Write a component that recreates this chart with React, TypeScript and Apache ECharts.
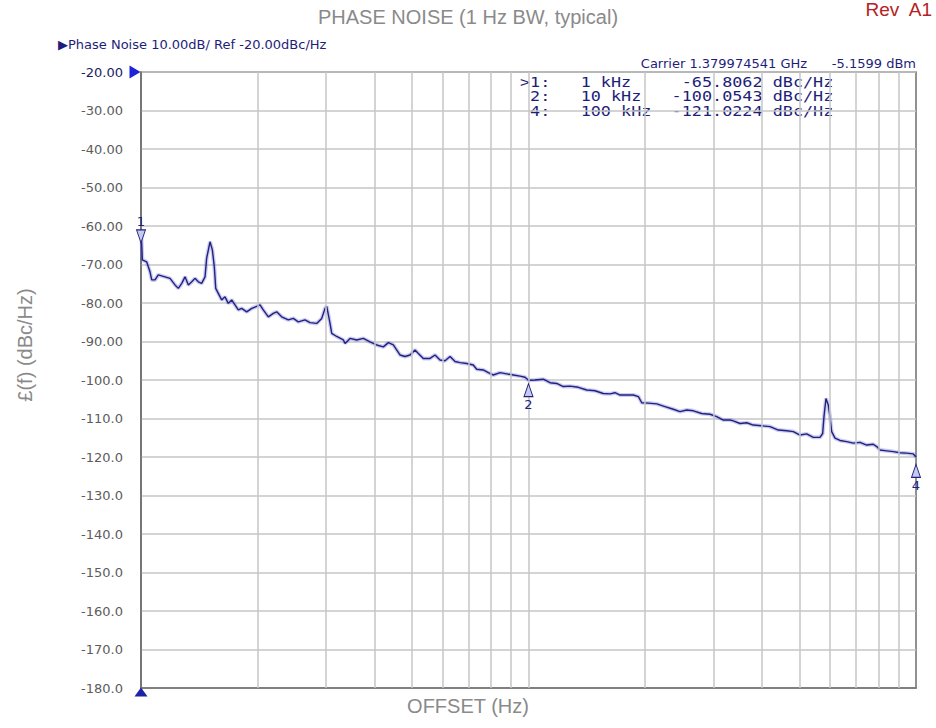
import React, { useEffect, useRef } from "react";
import * as echarts from "echarts";

// Offset frequency (Hz) of each trace point
const freqHz = [
  1000, 1004, 1008, 1034, 1055, 1066, 1087, 1108, 1153, 1188, 1224, 1248, 1274, 1299, 1325, 1352, 1378, 1406, 1434, 1463,
  1477, 1507, 1528, 1546, 1559, 1583, 1615, 1647, 1680, 1714, 1748, 1783, 1819, 1874, 1931, 1988, 2028, 2068, 2131, 2195,
  2240, 2307, 2400, 2472, 2546, 2650, 2730, 2841, 2927, 2985, 3015, 3075, 3106, 3199, 3328, 3362, 3463, 3603, 3748, 3899,
  4058, 4221, 4348, 4479, 4660, 4800, 4946, 5096, 5196, 5353, 5570, 5738, 5911, 6090, 6274, 6463, 6658, 6927, 7202, 7350,
  7645, 7876, 8114, 8444, 8785, 9137, 9509, 9795, 10000, 10394, 10920, 11363, 11826, 12296, 12796, 13446, 14135, 14846, 15596, 16233,
  16722, 17226, 17927, 18645, 19211, 19600, 20387, 21426, 22504, 23643, 24604, 25604, 26630, 27990, 29400, 30594, 31820, 33113, 33770, 35142,
  36570, 38030, 39980, 42010, 44130, 46380, 48240, 50190, 52230, 54330, 56520, 57430, 57880, 58570, 59380, 59980, 60590, 61800, 63670, 66250,
  68900, 71700, 74610, 77600, 79190, 80760, 84030, 87390, 90920, 94630, 98400, 100000,
];

// Phase noise (dBc/Hz) at each frequency above
const noiseDbc = [
  -62.0, -64.4, -68.8, -69.3, -71.9, -74.0, -74.0, -72.7, -73.2, -73.6, -75.3, -76.2, -74.9, -73.2, -75.3, -74.5, -73.6, -74.5, -74.9, -73.2,
  -68.4, -64.1, -66.2, -70.6, -76.2, -77.5, -79.2, -78.4, -80.1, -79.2, -80.5, -81.8, -81.4, -82.3, -81.4, -80.9, -80.5, -81.8, -83.6, -82.7,
  -82.3, -83.6, -84.4, -84.0, -84.9, -84.4, -85.1, -85.3, -84.0, -81.4, -80.9, -85.3, -87.9, -88.7, -89.6, -90.5, -89.2, -89.6, -89.2, -90.1,
  -90.9, -91.4, -90.3, -90.9, -93.5, -93.9, -93.5, -92.2, -93.1, -94.4, -94.4, -93.5, -94.8, -95.0, -93.9, -95.2, -95.5, -95.7, -96.1, -97.2,
  -97.4, -98.1, -98.7, -98.1, -98.4, -98.7, -99.0, -99.3, -100.05, -100.0, -99.8, -100.7, -100.9, -101.7, -101.6, -101.9, -102.6, -102.8, -103.5, -103.6,
  -103.3, -103.9, -103.9, -103.9, -104.3, -105.9, -106.0, -106.2, -106.9, -107.6, -108.2, -107.8, -108.0, -108.7, -108.9, -109.5, -110.4, -110.4, -110.6, -111.3,
  -111.1, -111.7, -111.9, -112.1, -113.0, -113.2, -113.4, -114.3, -114.0, -114.9, -114.9, -113.9, -109.5, -104.8, -106.5, -109.5, -113.4, -115.1, -115.7, -116.0,
  -116.4, -116.2, -116.9, -116.7, -117.3, -118.2, -118.4, -118.6, -118.9, -119.0, -119.2, -120.0,
];

// Markers
const markerIds = ["1", "2", "4"];
const markerFreq = [1000, 10000, 100000];
const markerLevel = [-65.8062, -100.0543, -121.0224];

// Vertical log grid lines
const logGridFreq = [2000, 3000, 4000, 5000, 6000, 7000, 8000, 9000, 10000, 20000, 30000, 40000, 50000, 60000, 70000, 80000, 90000];

// Axis range
const yMin = -180;
const yMax = -20;
const yStep = 10;
const xMin = 1000;
const xMax = 100000;

// Marker readout table
const tableRows = [
  ">1:   1 kHz     -65.8062 dBc/Hz",
  " 2:   10 kHz   -100.0543 dBc/Hz",
  " 4:   100 kHz  -121.0224 dBc/Hz",
];

const NAVY = "#22227a";
const GRID = "#c6c6c6";
const FRAME = "#6e6e6e";

export default function App() {
  const ref = useRef<HTMLDivElement>(null);

  useEffect(() => {
    if (!ref.current) return;
    const chart = echarts.init(ref.current, undefined, { renderer: "svg" });
    const trace = freqHz.map((f, i) => [f, noiseDbc[i]]);

    const markerPoints = markerIds.map((id, i) => {
      const first = i === 0;
      return {
        name: id,
        coord: [markerFreq[i], markerLevel[i]],
        symbol: "triangle",
        symbolSize: [9, 13],
        symbolRotate: first ? 180 : 0,
        symbolOffset: first ? [0, -12] : [0, 10],
        itemStyle: { color: "#c4cbf2", borderColor: NAVY, borderWidth: 1 },
        label: {
          show: true,
          position: first ? "top" : "bottom",
          distance: 1,
          formatter: id,
          color: NAVY,
          fontFamily: "DejaVu Sans",
          fontSize: 13,
        },
      };
    });

    const option: any = {
      animation: false,
      backgroundColor: "#ffffff",
      grid: {
        left: 141,
        right: 20,
        top: 72,
        bottom: 40,
        show: true,
        borderColor: FRAME,
        borderWidth: 1.5,
        backgroundColor: "#ffffff",
      },
      xAxis: {
        type: "log",
        logBase: 10,
        min: xMin,
        max: xMax,
        axisLabel: { show: false },
        axisTick: { show: false },
        splitLine: { show: false },
        axisLine: { show: true, lineStyle: { color: FRAME, width: 1.5 } },
      },
      yAxis: {
        type: "value",
        min: yMin,
        max: yMax,
        interval: yStep,
        axisTick: { show: false },
        axisLine: { show: true, lineStyle: { color: FRAME, width: 1.5 } },
        splitLine: { show: true, lineStyle: { color: GRID, width: 1.5 } },
        axisLabel: {
          margin: 18,
          color: "#5c5c5c",
          fontFamily: "DejaVu Sans",
          fontSize: 13,
          formatter: (v: number) => {
            const s = v > -100 ? v.toFixed(2) : v.toFixed(1);
            return v === yMax ? "{r|" + s + "}" : s;
          },
          rich: { r: { color: "#1a1a66", fontFamily: "DejaVu Sans", fontSize: 13 } },
        },
      },
      series: [
        {
          type: "line",
          name: "grid",
          data: trace,
          silent: true,
          z: 1,
          showSymbol: false,
          lineStyle: { opacity: 0 },
          markLine: {
            silent: true,
            symbol: ["none", "none"],
            label: { show: false },
            lineStyle: { color: GRID, width: 1.5, type: "solid" },
            data: logGridFreq.map((f) => ({ xAxis: f })),
          },
        },
        {
          type: "line",
          name: "halo",
          data: trace,
          silent: true,
          z: 2,
          showSymbol: false,
          lineStyle: { color: "rgba(110,110,225,0.35)", width: 4 },
        },
        {
          type: "line",
          name: "Phase Noise",
          data: trace,
          z: 3,
          showSymbol: false,
          lineStyle: { color: NAVY, width: 1.4 },
          markPoint: {
            silent: true,
            data: [
              ...markerPoints,
              {
                coord: [xMin, yMax],
                symbol: "triangle",
                symbolSize: [13, 11],
                symbolRotate: -90,
                symbolOffset: [-6, 0],
                itemStyle: { color: "#1e22d8" },
                label: { show: false },
              },
              {
                coord: [xMin, yMin],
                symbol: "triangle",
                symbolSize: [13, 9],
                symbolOffset: [0, 4],
                itemStyle: { color: "#1e22a8" },
                label: { show: false },
              },
            ],
          },
        },
      ],
      graphic: [
        {
          type: "text",
          x: 468,
          y: 7,
          style: {
            text: "PHASE NOISE (1 Hz BW, typical)",
            fill: "#8a8a8a",
            font: '20px "Liberation Sans"',
            align: "center",
            verticalAlign: "top",
          },
        },
        {
          type: "text",
          x: 932,
          y: 0,
          style: {
            text: "Rev  A1",
            fill: "#b42222",
            font: '19px "Liberation Sans"',
            align: "right",
            verticalAlign: "top",
          },
        },
        {
          type: "text",
          x: 468,
          y: 696,
          style: {
            text: "OFFSET (Hz)",
            fill: "#8a8a8a",
            font: '20px "Liberation Sans"',
            align: "center",
            verticalAlign: "top",
          },
        },
        {
          type: "text",
          x: 25,
          y: 345,
          rotation: Math.PI / 2,
          style: {
            text: "£(f) (dBc/Hz)",
            fill: "#8a8a8a",
            font: '20px "Liberation Sans"',
            align: "center",
            verticalAlign: "middle",
          },
        },
        {
          type: "text",
          x: 58,
          y: 44,
          style: {
            text: "▶Phase Noise 10.00dB/ Ref -20.00dBc/Hz",
            fill: "#1e1e7a",
            font: '13px "DejaVu Sans"',
            align: "left",
            verticalAlign: "middle",
          },
        },
        {
          type: "text",
          x: 916,
          y: 63,
          style: {
            text: "Carrier 1.379974541 GHz      -5.1599 dBm",
            fill: "#1e1e7a",
            font: '13px "DejaVu Sans"',
            align: "right",
            verticalAlign: "middle",
          },
        },
        ...tableRows.map((row, i) => ({
          type: "text",
          x: 520,
          y: 82 + i * 14.5,
          scaleX: 1.2,
          style: {
            text: row,
            fill: "#1e1e7a",
            font: '14px "DejaVu Sans Mono"',
            align: "left",
            verticalAlign: "middle",
          },
        })),
      ],
    };

    chart.setOption(option);
    return () => chart.dispose();
  }, []);

  return (
    <div
      ref={ref}
      style={{ position: "absolute", left: 0, top: 0, width: 936, height: 728 }}
    />
  );
}
